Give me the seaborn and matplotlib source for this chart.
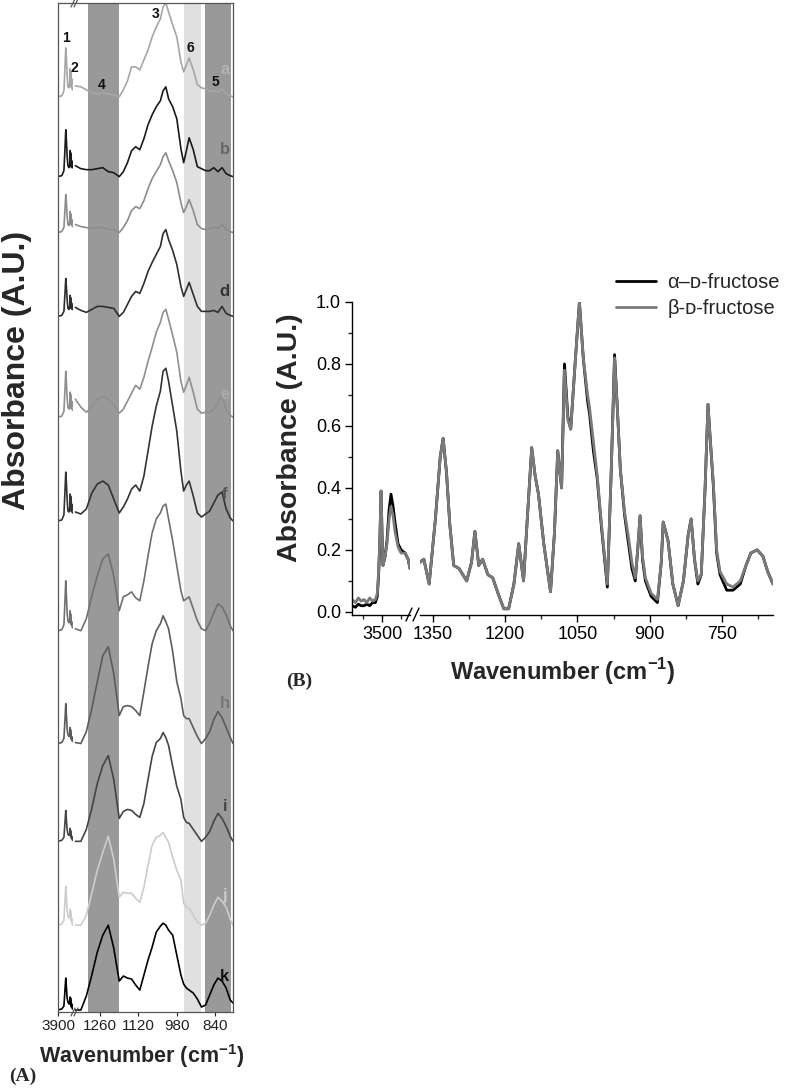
import numpy as np
import seaborn as sns
import matplotlib.pyplot as plt
from matplotlib.lines import Line2D

sns.set_theme(style="ticks")
plt.rcParams['font.family'] = ['Liberation Sans', 'DejaVu Sans']
plt.rcParams['mathtext.fontset'] = 'custom'
plt.rcParams['mathtext.rm'] = 'Liberation Sans'
plt.rcParams['mathtext.bf'] = 'Liberation Sans:bold'

# ---------------- panel A data (stacked spectra a..k, heights in A.U.) ----------------
trace_names = ['a', 'b', 'c', 'd', 'e', 'f', 'g', 'h', 'i', 'j', 'k']

wn_oh = [3920, 3760, 3680, 3640, 3610, 3590, 3560, 3530, 3490, 3460, 3450,
         3440, 3430, 3420, 3410, 3400, 3390, 3375, 3355]
oh_a = [0, 1, 6, 30, 49, 40, 22, 10, 9, 14, 28, 12, 26, 10, 24, 12, 18, 8, 7]
oh_b = [0, 1, 6, 28, 47, 38, 21, 11, 9, 13, 26, 12, 24, 10, 22, 11, 16, 9, 9]
oh_c = [0, 1, 5, 23, 38, 31, 17, 8, 7, 11, 21, 9, 19, 8, 17, 9, 13, 7, 6]
oh_d = [0, 1, 5, 23, 38, 31, 17, 8, 7, 11, 21, 9, 19, 8, 17, 9, 13, 7, 7]
oh_e = [0, 1, 6, 28, 46, 37, 20, 10, 8, 13, 25, 11, 23, 9, 21, 11, 16, 8, 7]
oh_f = [0, 1, 6, 30, 49, 40, 22, 10, 9, 14, 27, 12, 25, 10, 23, 11, 17, 9, 8]
oh_g = [0, 1, 6, 30, 50, 38, 18, 10, 8, 12, 20, 9, 17, 7, 13, 6, 9, 4, 3]
oh_h = [0, 1, 5, 24, 40, 30, 15, 9, 7, 10, 16, 8, 14, 6, 10, 4, 7, 3, 2]
oh_i = [0, 1, 4, 19, 31, 23, 12, 7, 6, 8, 13, 6, 11, 5, 8, 3, 5, 2, 1]
oh_j = [0, 1, 5, 24, 39, 29, 15, 9, 7, 10, 16, 8, 14, 6, 10, 4, 7, 2, 0]
oh_k = [0, 1, 4, 20, 32, 24, 12, 8, 6, 9, 13, 6, 12, 5, 9, 3, 6, 2, 1]

wn_fp = [1350, 1330, 1310, 1290, 1270, 1250, 1230, 1210, 1190, 1175, 1160, 1145,
         1130, 1115, 1100, 1085, 1070, 1055, 1040, 1030, 1020, 1010, 995, 980,
         965, 955, 945, 935, 920, 905, 890, 875, 860, 845, 830, 815, 800, 785, 775]
fp_a = [11, 10, 7, 4, 3, 4, 3, 2, 0, 7, 16, 30, 30, 27, 37, 47, 60, 70, 78, 90,
        94, 85, 72, 60, 35, 25, 32, 39, 27, 12, 9, 8, 6, 6, 5, 8, 3, 1, 0]
fp_b = [11, 8, 7, 7, 8, 9, 5, 4, 0, 5, 14, 26, 30, 27, 38, 52, 62, 70, 76, 86,
        90, 78, 70, 58, 28, 14, 26, 39, 27, 10, 8, 6, 6, 9, 5, 9, 3, 1, 0]
fp_c = [8, 6, 5, 4, 5, 5, 3, 3, 0, 5, 12, 22, 26, 24, 32, 44, 54, 61, 68, 76,
        80, 72, 62, 50, 30, 20, 26, 33, 22, 8, 4, 3, 4, 5, 4, 8, 3, 1, 0]
fp_d = [9, 6, 4, 7, 10, 10, 9, 8, 0, 4, 12, 20, 25, 23, 33, 45, 54, 62, 70, 83,
        87, 77, 66, 52, 30, 20, 27, 34, 22, 10, 5, 5, 5, 6, 4, 10, 3, 1, 0]
fp_e = [18, 10, 5, 10, 18, 21, 18, 12, 4, 8, 16, 24, 32, 28, 40, 56, 70, 85, 95, 105,
        108, 98, 82, 65, 36, 25, 32, 40, 25, 8, 4, 5, 5, 8, 14, 22, 8, 2, 0]
fp_f = [9, 7, 12, 28, 37, 40, 36, 22, 8, 14, 22, 32, 36, 30, 45, 70, 95, 115, 130, 150,
        153, 140, 115, 90, 50, 30, 36, 40, 25, 8, 4, 7, 10, 18, 26, 29, 12, 3, 0]
fp_g = [2, 0, 12, 35, 55, 72, 77, 55, 20, 34, 36, 39, 33, 30, 50, 75, 98, 112, 118, 125,
        127, 112, 90, 65, 40, 30, 32, 34, 22, 10, 2, 0, 8, 18, 27, 24, 16, 5, 0]
fp_h = [1, 0, 12, 35, 62, 88, 97, 70, 28, 37, 38, 37, 33, 28, 52, 77, 100, 113, 120, 128,
        122, 115, 92, 62, 45, 28, 25, 25, 16, 7, 0, 5, 12, 24, 32, 26, 16, 6, 0]
fp_i = [0, 0, 12, 33, 58, 76, 86, 62, 23, 30, 32, 31, 27, 24, 38, 62, 85, 99, 103, 109,
        104, 96, 75, 55, 42, 24, 19, 18, 12, 6, 0, 4, 10, 20, 28, 23, 15, 5, 0]
fp_j = [0, 0, 10, 32, 55, 73, 89, 66, 28, 33, 32, 32, 27, 23, 38, 60, 80, 88, 90, 93,
        88, 83, 68, 55, 45, 22, 18, 17, 10, 3, 0, 2, 10, 20, 28, 24, 18, 6, 0]
fp_k = [0, 0, 14, 35, 58, 75, 85, 62, 29, 34, 32, 31, 25, 20, 35, 50, 63, 78, 84, 87,
        85, 80, 75, 55, 35, 26, 22, 20, 17, 11, 3, 5, 15, 25, 32, 29, 22, 10, 7]

oh_all = [oh_a, oh_b, oh_c, oh_d, oh_e, oh_f, oh_g, oh_h, oh_i, oh_j, oh_k]
fp_all = [fp_a, fp_b, fp_c, fp_d, fp_e, fp_f, fp_g, fp_h, fp_i, fp_j, fp_k]

# vertical stacking offsets and styles (layout)
offsets = [915, 835, 779, 695, 594, 490, 380, 267, 169, 85, 0]
label_dy = [27, 27, 18, 25, 23, 27, 42, 40, 35, 30, 34]
line_colors = ['#a6a6a6', '#1a1a1a', '#8c8c8c', '#2e2e2e', '#8f8f8f', '#333333',
               '#707070', '#5c5c5c', '#454545', '#cccccc', '#000000']
label_colors = ['#b4b4b4', '#666666', '#999999', '#333333', '#aaaaaa', '#555555',
                '#999999', '#777777', '#444444', '#cccccc', '#111111']

band_dark = [(1304, 1191), (877, 782)]
band_light = [(953, 891)]
peak_ids = ['1', '2', '3', '4', '5', '6']

# ---------------- panel B data ----------------
wn_b_oh = [3658, 3640, 3625, 3610, 3595, 3580, 3565, 3550, 3535, 3525, 3518, 3512,
           3505, 3500, 3495, 3484, 3474, 3463, 3453, 3442, 3432, 3416, 3400, 3379,
           3363, 3353]
alpha_oh = [0.02, 0.015, 0.025, 0.02, 0.02, 0.025, 0.02, 0.03, 0.03, 0.05, 0.12, 0.22,
            0.39, 0.25, 0.15, 0.18, 0.23, 0.33, 0.38, 0.34, 0.29, 0.22, 0.20, 0.19,
            0.17, 0.14]
beta_oh = [0.04, 0.03, 0.045, 0.035, 0.04, 0.03, 0.045, 0.035, 0.04, 0.06, 0.13, 0.23,
           0.39, 0.25, 0.15, 0.18, 0.22, 0.30, 0.34, 0.31, 0.26, 0.21, 0.19, 0.19,
           0.17, 0.14]

wn_b_fp = [1377, 1369, 1358, 1345, 1335, 1329, 1322, 1315, 1307, 1296, 1280, 1270,
           1263, 1255, 1247, 1236, 1226, 1215, 1203, 1193, 1182, 1172, 1162, 1155,
           1145, 1138, 1131, 1120, 1106, 1098, 1091, 1083, 1077, 1070, 1064, 1055,
           1046, 1038, 1029, 1025, 1017, 1009, 1000, 988, 980, 973, 967, 961, 952,
           944, 937, 930, 925, 920, 915, 909, 897, 884, 876, 872, 862, 852, 841,
           830, 820, 814, 807, 800, 793, 785, 779, 774, 768, 761, 754, 740, 727,
           712, 700, 690, 677, 665, 655, 644]
beta_fp = [0.16, 0.17, 0.09, 0.30, 0.50, 0.56, 0.45, 0.28, 0.15, 0.14, 0.10, 0.16,
           0.26, 0.15, 0.17, 0.12, 0.11, 0.06, 0.01, 0.01, 0.09, 0.22, 0.10, 0.28,
           0.53, 0.44, 0.38, 0.22, 0.065, 0.25, 0.52, 0.40, 0.78, 0.62, 0.59, 0.80,
           1.00, 0.82, 0.70, 0.66, 0.55, 0.44, 0.28, 0.09, 0.45, 0.82, 0.65, 0.46, 0.32,
           0.24, 0.16, 0.11, 0.20, 0.31, 0.18, 0.11, 0.06, 0.04, 0.16, 0.29, 0.23, 0.09,
           0.02, 0.10, 0.25, 0.30, 0.17, 0.10, 0.12, 0.40, 0.67, 0.55, 0.42, 0.20,
           0.13, 0.09, 0.08, 0.10, 0.15, 0.19, 0.20, 0.18, 0.13, 0.09]
alpha_fp = [0.16, 0.17, 0.09, 0.30, 0.50, 0.56, 0.45, 0.28, 0.15, 0.14, 0.10, 0.16,
            0.26, 0.15, 0.17, 0.12, 0.11, 0.06, 0.01, 0.01, 0.09, 0.22, 0.10, 0.28,
            0.53, 0.44, 0.38, 0.22, 0.065, 0.25, 0.52, 0.40, 0.80, 0.63, 0.59, 0.80,
            1.00, 0.82, 0.68, 0.64, 0.52, 0.43, 0.27, 0.08, 0.45, 0.83, 0.65, 0.46, 0.31,
            0.22, 0.14, 0.10, 0.20, 0.31, 0.17, 0.10, 0.05, 0.03, 0.16, 0.29, 0.23, 0.09,
            0.02, 0.10, 0.25, 0.30, 0.17, 0.09, 0.12, 0.40, 0.67, 0.55, 0.41, 0.19,
            0.12, 0.07, 0.07, 0.09, 0.15, 0.19, 0.20, 0.18, 0.13, 0.09]

W, H = 787, 1090


def box(x0, x1, y0, y1):
    # pixel box (top-left origin) -> figure fraction rect
    return [x0 / W, 1 - y1 / H, (x1 - x0) / W, (y1 - y0) / H]


def fxy(x, y):
    return x / W, 1 - y / H


fig = plt.figure(figsize=(W / 100, H / 100), dpi=100)

# ================= panel A =================
axA1 = fig.add_axes(box(57.5, 73, 3, 1012))
axA2 = fig.add_axes(box(74, 233, 3, 1012))
axA1.patch.set_alpha(0)
axA2.patch.set_alpha(0)

for lo, hi in band_dark:
    axA2.axvspan(lo, hi, color='#999999', lw=0, zorder=0)
for lo, hi in band_light:
    axA2.axvspan(lo, hi, color='#e0e0e0', lw=0, zorder=0)

for name, oh, fp, base, col in zip(trace_names, oh_all, fp_all, offsets, line_colors):
    sns.lineplot(x=wn_oh, y=np.array(oh) + base, ax=axA1, color=col, lw=1.2)
    sns.lineplot(x=wn_fp, y=np.array(fp) + base, ax=axA2, color=col, lw=1.2)

for name, base, dy, col in zip(trace_names, offsets, label_dy, label_colors):
    axA2.text(805, base + dy, name, color=col, fontsize=12, fontweight='bold',
              ha='center', va='center')

for ax in (axA1, axA2):
    ax.set_ylim(-2, 1009)
    ax.set_yticks([])
    ax.set_xlabel('')
    ax.set_ylabel('')
    for s in ax.spines.values():
        s.set_color('#555555')
        s.set_linewidth(0.9)
    ax.tick_params(axis='x', length=3, width=0.8, pad=2, labelsize=11, colors='#222222')
axA1.spines['right'].set_visible(False)
axA2.spines['left'].set_visible(False)
axA1.set_xlim(3920, 3340)
axA2.set_xlim(1355, 775)
axA1.set_xticks([3900])
axA2.set_xticks([1260, 1120, 980, 840])

num_kw = dict(fontsize=10, fontweight='bold', ha='center', va='center', color='#111111')
axA1.text(3610, 974, peak_ids[0], **num_kw)
axA1.text(3300, 944, peak_ids[1], **num_kw)
axA2.text(1059, 998, peak_ids[2], **num_kw)
axA2.text(1256, 927, peak_ids[3], **num_kw)
axA2.text(840, 930, peak_ids[4], **num_kw)
axA2.text(932, 964, peak_ids[5], **num_kw)

fig.text(*fxy(17, 370), 'Absorbance (A.U.)', rotation=90, fontsize=23,
         fontweight='bold', ha='center', va='center')
fig.text(*fxy(142, 1056), r'Wavenumber (cm$^{\mathbf{-1}}$)', fontsize=15.5,
         fontweight='bold', ha='center', va='center')
fig.text(*fxy(23, 1076), '(A)', family='Liberation Serif', fontsize=14,
         fontweight='bold', ha='center', va='center')

# ================= panel B =================
axB1 = fig.add_axes(box(352, 410, 302, 615))
axB2 = fig.add_axes(box(420, 773, 302, 615))

sns.lineplot(x=wn_b_oh, y=alpha_oh, ax=axB1, color='black', lw=2.0)
sns.lineplot(x=wn_b_oh, y=beta_oh, ax=axB1, color='#7a7a7a', lw=2.0)
sns.lineplot(x=wn_b_fp, y=alpha_fp, ax=axB2, color='black', lw=2.0,
             label='\u03b1\u2013\u1d05-fructose')
sns.lineplot(x=wn_b_fp, y=beta_fp, ax=axB2, color='#7a7a7a', lw=2.0,
             label='\u03b2-\u1d05-fructose')

for ax in (axB1, axB2):
    ax.set_ylim(-0.01, 1.0)
    ax.set_xlabel('')
    ax.set_ylabel('')
    ax.spines['top'].set_visible(False)
    ax.spines['right'].set_visible(False)
    for s in ax.spines.values():
        s.set_color('black')
        s.set_linewidth(1.0)
    ax.tick_params(which='major', length=5, width=1, labelsize=13, pad=3, colors='black')
    ax.tick_params(which='minor', length=3, width=1)
axB2.spines['left'].set_visible(False)
axB2.set_yticks([])
axB1.set_xlim(3658, 3353)
axB2.set_xlim(1377, 644)
axB1.set_yticks([0, 0.2, 0.4, 0.6, 0.8, 1.0])
axB1.set_yticklabels(['0.0', '0.2', '0.4', '0.6', '0.8', '1.0'])
axB1.set_yticks([0.1, 0.3, 0.5, 0.7, 0.9], minor=True)
axB1.set_xticks([3500])
axB1.set_xticks([3600, 3400], minor=True)
axB2.set_xticks([1350, 1200, 1050, 900, 750])
axB2.set_xticks([1275, 1125, 975, 825, 675], minor=True)

axB2.legend(loc='upper left', bbox_to_anchor=fxy(616, 273), bbox_transform=fig.transFigure,
            frameon=False, fontsize=14.5, handlelength=2.0, handletextpad=0.55,
            labelspacing=0.35, borderpad=0, borderaxespad=0)

fig.text(*fxy(290, 438), 'Absorbance (A.U.)', rotation=90, fontsize=20.5,
         fontweight='bold', ha='center', va='center')
fig.text(*fxy(563, 672), r'Wavenumber (cm$^{\mathbf{-1}}$)', fontsize=17,
         fontweight='bold', ha='center', va='center')
fig.text(*fxy(299, 681), '(B)', family='Liberation Serif', fontsize=14,
         fontweight='bold', ha='center', va='center')

# axis break marks
for (x0, y0) in [(71, 7), (74, 7), (71, 1016), (74, 1016)]:
    fig.add_artist(Line2D([x0 / W, (x0 + 4) / W], [1 - y0 / H, 1 - (y0 - 8) / H],
                          color='#555555', lw=0.9))
for (x0, y0) in [(406, 621), (413, 621)]:
    fig.add_artist(Line2D([x0 / W, (x0 + 6) / W], [1 - y0 / H, 1 - (y0 - 13) / H],
                          color='black', lw=1.0))

fig.savefig('out.png', dpi=100)
